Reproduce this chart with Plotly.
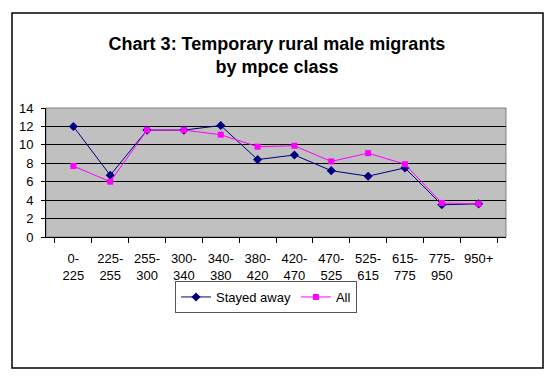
import plotly.graph_objects as go

categories = ["0-<br>225", "225-<br>255", "255-<br>300", "300-<br>340", "340-<br>380", "380-<br>420",
              "420-<br>470", "470-<br>525", "525-<br>615", "615-<br>775", "775-<br>950", "950+"]
stayed_away = [12.0, 6.7, 11.6, 11.6, 12.1, 8.4, 8.9, 7.2, 6.6, 7.5, 3.5, 3.6]
all_vals = [7.7, 6.0, 11.6, 11.6, 11.1, 9.8, 9.9, 8.2, 9.1, 7.9, 3.7, 3.6]
y_ticks = [0, 2, 4, 6, 8, 10, 12, 14]

# page body has an 8px default margin; figure is sized to fill the rest of the window
OFF = 8
W, H = 556 - OFF, 387 - OFF
ml, mt = 46 - OFF, 108 - OFF
pw, ph = 460, 129
mr, mb = W - ml - pw, H - mt - ph


def px_x(x):  # page x -> paper x
    return (x - OFF - ml) / pw


def px_y(y):  # page y -> paper y
    return (mt + ph - (y - OFF)) / ph


fig = go.Figure()
fig.add_trace(go.Scatter(x=categories, y=stayed_away, name="Stayed away", mode="lines+markers",
                         line=dict(color="#000080", width=1),
                         marker=dict(symbol="diamond", size=7, color="#000080")))
fig.add_trace(go.Scatter(x=categories, y=all_vals, name="All", mode="lines+markers",
                         line=dict(color="#FF00FF", width=1),
                         marker=dict(symbol="square", size=6, color="#FF00FF")))

fig.update_layout(
    width=W, height=H,
    margin=dict(l=ml, r=mr, t=mt, b=mb, autoexpand=False),
    paper_bgcolor="white", plot_bgcolor="#C0C0C0",
    font=dict(family="Liberation Sans, Arial", size=12, color="black"),
    title=dict(text="<b>Chart 3: Temporary rural male migrants<br>by mpce class</b>",
               x=(277 - OFF) / W, xanchor="center", y=1 - 42 / H, yanchor="top",
               font=dict(size=18, family="Liberation Sans, Arial")),
    showlegend=True,
    legend=dict(orientation="h", x=px_x(266), xanchor="center",
                y=px_y(281), yanchor="top",
                bordercolor="#555555", borderwidth=1, bgcolor="white",
                font=dict(size=13), tracegroupgap=0),
    xaxis=dict(type="category", tickson="boundaries", ticks="outside", ticklen=5,
               tickcolor="black", showline=True, linecolor="black", linewidth=1,
               showgrid=False, tickfont=dict(size=13), tickangle=0, automargin=False,
               ticklabelstandoff=9),
    yaxis=dict(range=[0, 14], tickvals=y_ticks, ticks="outside", ticklen=4,
               tickcolor="black", showline=True, linecolor="black", linewidth=1,
               showgrid=True, gridcolor="black", gridwidth=1, zeroline=False,
               tickfont=dict(size=13), automargin=False, ticklabelstandoff=5),
    shapes=[dict(type="rect", xref="paper", yref="paper",
                 x0=px_x(12), x1=px_x(543), y0=px_y(368), y1=px_y(13),
                 line=dict(color="black", width=1.5), fillcolor="rgba(0,0,0,0)", layer="below"),
            dict(type="rect", xref="paper", yref="paper", x0=0, x1=1, y0=0, y1=1,
                 line=dict(color="#808080", width=1), fillcolor="rgba(0,0,0,0)", layer="below")],
)

fig.write_html("out.html")
